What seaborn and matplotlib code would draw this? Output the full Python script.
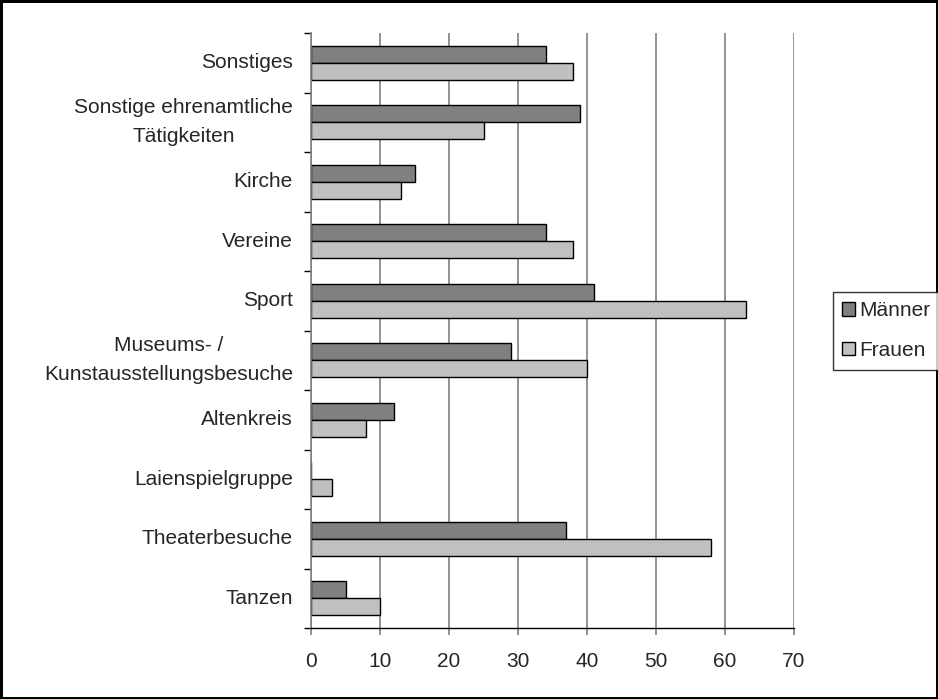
import pandas as pd
import numpy as np
import matplotlib
matplotlib.use("Agg")
import matplotlib.pyplot as plt
import seaborn as sns
from matplotlib.patches import Patch

categories = ["Sonstiges", "Sonstige ehrenamtliche\nTätigkeiten", "Kirche", "Vereine", "Sport",
              "Museums- /\nKunstausstellungsbesuche", "Altenkreis", "Laienspielgruppe",
              "Theaterbesuche", "Tanzen"]
maenner = [34, 39, 15, 34, 41, 29, 12, 0, 37, 5]
frauen = [38, 25, 13, 38, 63, 40, 8, 3, 58, 10]
series = ["Männer", "Frauen"]
x_ticks = [0, 10, 20, 30, 40, 50, 60, 70]

df = pd.DataFrame({
    "Kategorie": categories * 2,
    "Wert": maenner + frauen,
    "Gruppe": ["Männer"] * len(categories) + ["Frauen"] * len(categories),
})

sns.set_style("white")
plt.rcParams["font.family"] = ["Liberation Sans", "DejaVu Sans"]

fig = plt.figure(figsize=(9.38, 6.99), dpi=100)
fig.patch.set_edgecolor("black")
fig.patch.set_linewidth(2.5)
ax = fig.add_axes([311 / 938, 1 - 628 / 699, (794 - 311) / 938, (628 - 33) / 699])

sns.barplot(data=df, x="Wert", y="Kategorie", hue="Gruppe", order=categories,
            hue_order=series, palette=["#808080", "#c0c0c0"], orient="h",
            width=0.57, edgecolor="black", linewidth=1, ax=ax, legend=False,
            saturation=1)

ax.set_xlim(0, 70)
ax.set_xticks(x_ticks)
ax.set_ylim(len(categories) - 0.5, -0.5)
ax.set_axisbelow(True)
ax.grid(axis="x", color="#808080", linewidth=1.2)
ax.grid(axis="y", visible=False)
ax.set_xlabel("")
ax.set_ylabel("")

for s in ["top", "right"]:
    ax.spines[s].set_visible(False)
ax.spines["left"].set_color("#808080")
ax.spines["left"].set_linewidth(1.2)
ax.spines["bottom"].set_color("black")
ax.spines["bottom"].set_linewidth(1)

# category ticks sit between the groups
ax.set_yticks(np.arange(-0.5, len(categories), 1), minor=True)
ax.tick_params(axis="y", which="major", length=0, pad=13, labelsize=15)
ax.tick_params(axis="y", which="minor", length=5, width=1, color="black", direction="out", left=True)
ax.tick_params(axis="x", length=5, width=1.2, color="#808080", direction="out", bottom=True, pad=12, labelsize=15)
for lab in ax.get_yticklabels():
    lab.set_multialignment("center")
    lab.set_linespacing(1.65)
    lab.set_verticalalignment("center")

handles = [Patch(facecolor="#808080", edgecolor="black"), Patch(facecolor="#c0c0c0", edgecolor="black")]
leg = fig.legend(handles, series, loc="upper left", bbox_to_anchor=(833 / 938, 1 - 292 / 699),
                 frameon=True, fancybox=False, fontsize=15, handlelength=0.6, handleheight=0.6,
                 handletextpad=0.2, labelspacing=1.0, borderpad=0.45, borderaxespad=0)
leg.get_frame().set_edgecolor("black")
leg.get_frame().set_linewidth(1)

fig.savefig("out.png", dpi=100, edgecolor=fig.get_edgecolor())
